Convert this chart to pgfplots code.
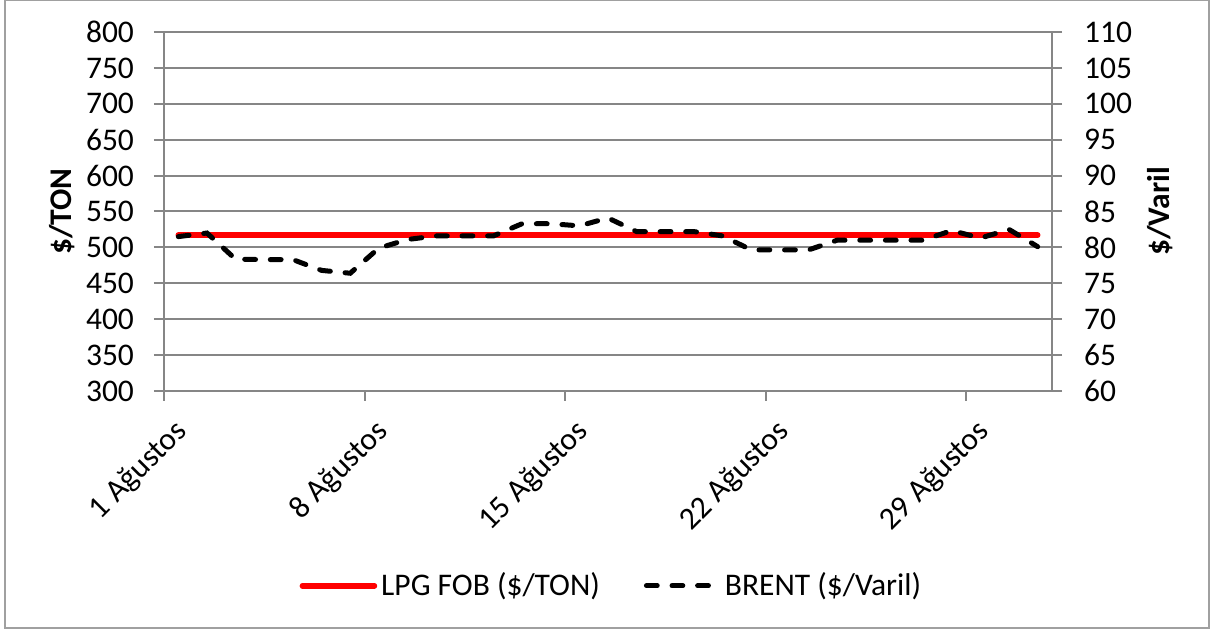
\documentclass[border=0pt]{standalone}
\usepackage{pgfplots}
\pgfplotsset{compat=1.18}
\usepackage{fontspec}
\setmainfont{Carlito}
\definecolor{axgray}{RGB}{134,134,134}
\definecolor{framegray}{RGB}{160,160,160}
\definecolor{lpgred}{RGB}{255,0,0}
\pgfplotstableread{
day brent
1 81.5
2 82.0
3 78.35
4 78.3
5 78.3
6 76.8
7 76.4
8 79.9
9 81.1
10 81.6
11 81.6
12 81.6
13 83.3
14 83.3
15 83.0
16 84.1
17 82.2
18 82.2
19 82.2
20 81.6
21 79.65
22 79.65
23 79.65
24 81.0
25 81.0
26 81.0
27 81.0
28 82.35
29 81.3
30 82.5
31 80.1
}\brenttable
\pgfplotstableread{
day lpg
1 517
31 517
}\lpgtable
\begin{document}
\begin{tikzpicture}[font=\fontsize{15.75}{18}\selectfont]
\useasboundingbox (-82pt,-119.5pt) rectangle (523.5pt,195.5pt);
\draw[framegray, line width=1pt] (-79.5pt,-118.5pt) rectangle (522.5pt,195.25pt);
\pgfplotsset{
  common/.style={
    at={(0,0)}, anchor=south west,
    width=444pt, height=179.5pt, scale only axis,
    xmin=0.5, xmax=31.5,
    tick align=outside, major tick length=5pt,
    tick style={axgray, line width=1pt},
    axis line style={axgray, line width=1pt},
    /pgf/number format/assume math mode=true,
    tick label style={font=\fontsize{15.75}{18}\selectfont, black},
    label style={font=\fontsize{15.75}{18}\selectfont\bfseries},
    clip=false,
  }
}
\begin{axis}[common,
  ymin=300, ymax=800, ytick={300,350,...,800},
  yticklabel style={xshift=-6.5pt},
  xtick={0.5,7.5,14.5,21.5,28.5},
  xticklabels={1 Ağustos, 8 Ağustos, 15 Ağustos, 22 Ağustos, 29 Ağustos},
  xticklabel style={xshift=11.85pt, yshift=-10.5pt, rotate=45, anchor=east},
  axis x line*=bottom, axis y line*=left,
  ymajorgrids, grid style={axgray, line width=1pt},
  ylabel={\$/TON},
  ylabel style={at={(axis description cs:-0.115,0.5)}, anchor=center},
  legend columns=2,
  legend style={at={(axis description cs:0.505,-0.5425)}, anchor=center, draw=none, fill=none,
    font=\fontsize{15.75}{18}\selectfont,
    /tikz/every even column/.append style={column sep=20pt}},
  legend image code/.code={\draw[#1] (0pt,0pt) -- (36pt,0pt);},
]
\addplot[lpgred, line width=2.8pt, line cap=round] table[x=day, y=lpg] {\lpgtable};
\addlegendentry{LPG FOB (\$/TON)}
\addlegendimage{black, line width=2.5pt, dash pattern=on 5.4pt off 7.4pt, line cap=round}
\addlegendentry{BRENT (\$/Varil)}
\end{axis}
\begin{axis}[common,
  ymin=60, ymax=110, ytick={60,65,...,110},
  yticklabel style={xshift=7.5pt},
  axis y line*=right, axis x line=none,
  ylabel={\$/Varil},
  ylabel style={at={(axis description cs:1.1216,0.5)}, anchor=center},
]
\addplot[black, line width=2.5pt, dash pattern=on 5.4pt off 7.4pt, line cap=round] table[x=day, y=brent] {\brenttable};
\end{axis}
\end{tikzpicture}
\end{document}
